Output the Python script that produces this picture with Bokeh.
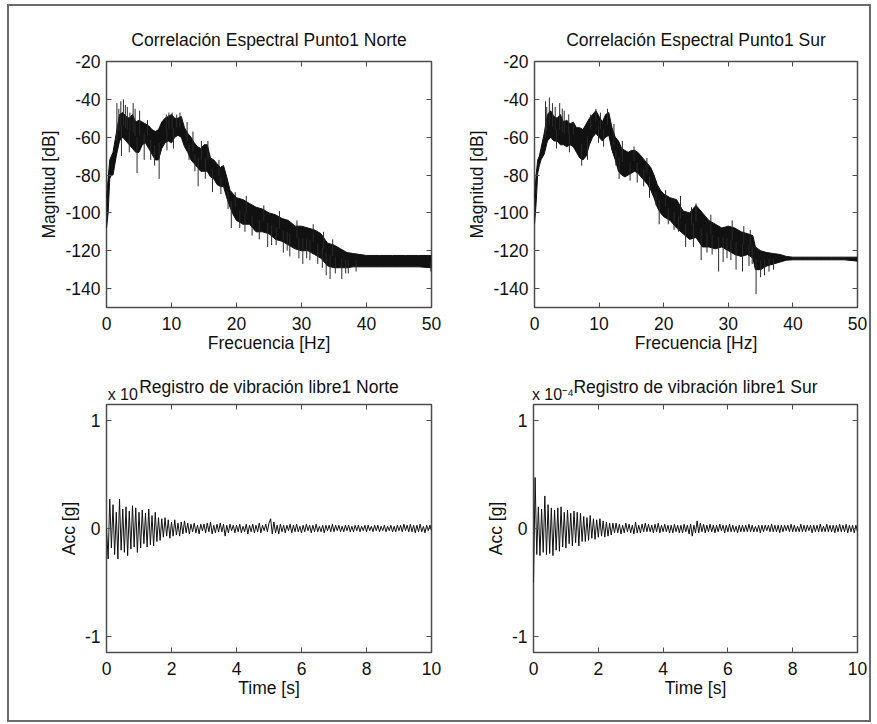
import numpy as np
from bokeh.plotting import figure
from bokeh.layouts import row, column
from bokeh.models import Range1d, FixedTicker, LinearAxis
from bokeh.embed import file_html
from bokeh.resources import INLINE

FONT = "Liberation Sans"
FS = "17.5px"

# ---------------- data ----------------
TITLES = ["Correlación Espectral Punto1 Norte", "Correlación Espectral Punto1 Sur",
          "Registro de vibración libre1 Norte", "Registro de vibración libre1 Sur"]
SCALE_TEXT = ["x 10", "x 10⁻⁴"]

FREQ_TICKS = [0, 10, 20, 30, 40, 50]
DB_TICKS = [-140, -120, -100, -80, -60, -40, -20]
TIME_TICKS = [0, 2, 4, 6, 8, 10]
ACC_TICKS = [-1, 0, 1]

# Norte spectrum: band envelope (upper / lower, dB)
NORTE_F = [0, 0.25, 0.5, 0.75, 1, 1.5, 2, 2.5, 3, 3.5, 4, 4.5, 5, 5.5, 6, 6.5, 7, 7.5, 8, 8.5,
           9, 9.5, 10, 10.5, 11, 11.5, 12, 12.5, 13, 13.5, 14, 14.5, 15, 15.5, 16, 16.5, 17, 17.5,
           18, 18.5, 19, 19.5, 20, 21, 22, 23, 24, 25, 26, 27, 28, 29, 30, 31, 32, 33, 34, 35,
           36, 37, 38, 39, 40, 42, 44, 46, 48, 50]
NORTE_UP = [-92, -82, -72, -70, -68, -58, -48, -47, -49, -50, -48, -52, -51, -52, -53, -54, -56, -57, -56, -52,
            -50, -49, -48, -50, -50, -49, -55, -58, -60, -63, -65, -66, -64, -64, -71, -72, -74, -76,
            -75, -81, -88, -90, -92, -93, -95, -97, -98, -100, -101, -103, -104, -107, -107, -108, -109, -111, -116, -117,
            -119, -121, -121.5, -122, -122.5, -122.5, -122.5, -122.5, -122.5, -122.5]
NORTE_LO = [-108, -100, -82, -80, -80, -70, -62, -60, -62, -64, -66, -68, -68, -64, -63, -66, -69, -72, -72, -66,
            -63, -62, -63, -60, -59, -60, -65, -68, -72, -74, -76, -78, -78, -78, -81, -82, -85, -86,
            -86, -92, -97, -101, -104, -106, -106, -110, -110, -111, -114, -115, -117, -119, -120, -120, -122, -124, -128, -129,
            -129, -129, -128.5, -128.5, -128.5, -128.5, -128.5, -128.5, -128.5, -129]
NORTE_SPIKE_F = [1.6, 1.9, 2.2, 2.6, 2.9, 3.2, 3.6, 4.1, 4.4, 5.1, 6.3, 9.2, 9.6, 10.1, 10.8, 11.3, 12.4,
                 13.3, 14.6, 15.6, 17.3, 19.8, 21.5, 24.2, 26.6, 29.3, 31.8, 33.4, 34.8,
                 2.3, 3.5, 4.7, 5.8, 6.8, 7.4, 8.1, 9.3, 10.3, 12.7, 13.6, 14.1, 15.2, 16.3, 17.6, 18.7,
                 19.2, 20.5, 21.3, 22.4, 23.5, 24.8, 25.4, 26.1, 27.2, 27.8, 28.2, 29.6, 30.2, 30.8,
                 31.3, 32.5, 33.2, 33.8, 34.4, 35.2, 36.2, 36.8, 37.2, 38.4, 49.9]
NORTE_SPIKE_DB = [-42, -45, -41, -40, -43, -44, -47, -42, -45, -46, -51, -48, -47, -47, -48, -47, -52,
                  -57, -62, -62, -72, -89, -91, -96, -99, -104, -106, -110, -114,
                  -70, -68, -79, -72, -72, -75, -82, -67, -66, -72, -78, -86, -82, -89, -90, -98,
                  -108, -108, -110, -112, -114, -118, -117, -117, -121, -120, -123, -124, -127, -124,
                  -125, -127, -129, -133, -135, -132, -135, -132, -132, -131, -131]

# Sur spectrum
SUR_F = [0, 0.25, 0.5, 0.75, 1, 1.5, 2, 2.5, 3, 3.5, 4, 4.5, 5, 5.5, 6, 6.5, 7, 7.5, 8, 8.5,
         9, 9.5, 10, 10.5, 11, 11.5, 12, 12.5, 13, 13.5, 14, 14.5, 15, 15.5, 16, 16.5, 17, 17.5,
         18, 18.5, 19, 19.5, 20, 21, 22, 23, 24, 25, 26, 27, 28, 29, 30, 31, 32, 33, 33.8, 34.2,
         35, 36, 37, 38, 39, 40, 42, 44, 46, 48, 50]
SUR_UP = [-92, -80, -72, -70, -66, -58, -48, -46, -49, -50, -48, -52, -51, -53, -52, -55, -55, -56, -53, -50,
          -48, -46, -49, -52, -48, -47, -55, -60, -62, -66, -67, -68, -67, -67, -68, -70, -72, -74,
          -76, -80, -85, -88, -90, -92, -93, -99, -100, -96, -100, -104, -106, -108, -107, -108, -110, -111, -112, -118,
          -120, -121, -121.5, -122, -123, -123.4, -123.4, -123.4, -123.4, -123.4, -123.4]
SUR_LO = [-106, -95, -79, -75, -72, -69, -62, -60, -62, -62, -64, -64, -65, -64, -65, -68, -71, -72, -70, -64,
          -60, -58, -60, -62, -60, -59, -67, -72, -78, -80, -81, -80, -79, -78, -79, -81, -83, -85,
          -88, -92, -97, -100, -102, -104, -108, -111, -114, -113, -118, -118, -119, -118, -120, -122, -123, -122, -124, -130,
          -130, -128, -127, -126, -125, -124.8, -124.8, -124.8, -124.8, -124.8, -125.5]
SUR_SPIKE_F = [1.7, 1.9, 2.3, 2.8, 3.2, 3.9, 4.3, 4.6, 5.3, 6.0, 8.7, 9.5, 10.2, 11.3, 12.3, 13.6, 15.4,
               17.4, 20.3, 22.6, 24.3, 25.0, 27.3, 30.6, 32.4, 33.4,
               3.4, 5.4, 7.3, 8.2, 9.9, 10.7, 12.6, 13.1, 14.8, 15.9, 16.9, 17.8, 18.8, 19.3, 20.7,
               21.6, 22.3, 23.4, 24.6, 25.8, 26.7, 27.5, 28.5, 29.2, 29.8, 30.4, 31.2, 32.2, 33.2,
               33.7, 34.3, 35.0, 35.6, 36.3, 37.0]
SUR_SPIKE_DB = [-41, -44, -39, -42, -44, -42, -45, -46, -48, -52, -48, -45, -47, -45, -53, -62, -65,
                -71, -88, -91, -97, -95, -101, -104, -107, -109,
                -66, -68, -75, -72, -63, -65, -75, -82, -83, -84, -86, -92, -96, -106, -106,
                -109, -110, -118, -118, -125, -121, -122, -131, -126, -124, -125, -130, -131, -128,
                -127, -143, -134, -133, -131, -130]

# Free-vibration records (x 1e-4 g), one value every 0.05 s from 0 to 10 s
NORTE_ACC = [0.00, -0.28, 0.27, -0.18, 0.22, -0.24, 0.15, -0.28, 0.27, -0.20, 0.18, -0.22, 0.20, -0.25, 0.16,
             -0.19, 0.21, -0.17, 0.19, -0.22, 0.15, -0.18, 0.17, -0.14, 0.14, -0.17, 0.18, -0.15, 0.12, -0.16,
             0.15, -0.12, 0.10, -0.11, 0.09, -0.08, 0.10, -0.07, 0.08, -0.09, 0.06, -0.07, 0.08, -0.06, 0.05,
             -0.07, 0.06, -0.05, 0.07, -0.04, 0.05,
             -0.05, 0.04, -0.03, 0.05, -0.04, 0.03, -0.05, 0.04, -0.02, 0.04,
             -0.04, 0.05, -0.03, 0.06, -0.05, 0.03, -0.04, 0.04, -0.03, 0.05,
             -0.03, 0.04, -0.07, 0.03, -0.04, 0.04, -0.02, 0.03, -0.04, 0.03,
             -0.03, 0.04, -0.04, 0.02, -0.03, 0.04, -0.05, 0.03, -0.03, 0.04,
             -0.04, 0.03, -0.03, 0.05, -0.04, 0.03, -0.02, 0.04, -0.03, 0.05,
             0.09, -0.05, 0.06, -0.04, 0.03, -0.05, 0.04, -0.03, 0.03, -0.04,
             0.03, -0.02, 0.04, -0.04, 0.03, -0.03, 0.04, -0.03, 0.02, -0.04,
             0.03, -0.03, 0.04, -0.02, 0.03, -0.04, 0.03, -0.03, 0.04, -0.03,
             0.02, -0.03, 0.03, -0.04, 0.03, -0.02, 0.03, -0.03, 0.04, -0.03,
             0.03, -0.02, 0.03, -0.03, 0.02, -0.03, 0.03, -0.02, 0.03, -0.03,
             0.02, -0.03, 0.03, -0.02, 0.03, -0.03, 0.02, -0.02, 0.03, -0.03,
             0.03, -0.02, 0.02, -0.03, 0.03, -0.02, 0.03, -0.03, 0.02, -0.02,
             0.03, -0.03, 0.02, -0.02, 0.03, -0.03, 0.02, -0.03, 0.03, -0.02,
             0.03, -0.03, 0.04, -0.02, 0.03, -0.03, 0.04, -0.03, 0.03, -0.04,
             0.03, -0.03, 0.04, -0.03, 0.02, -0.04, 0.03, -0.02, 0.03, -0.02]
SUR_ACC = [-0.50, 0.47, -0.24, 0.20, -0.25, 0.18, -0.22, 0.30, -0.24, 0.22, -0.23, 0.19, -0.25, 0.17, -0.20,
           0.19, -0.21, 0.20, -0.17, 0.15, -0.18, 0.17, -0.14, 0.14, -0.16, 0.16, -0.13, 0.15, -0.16, 0.14,
           -0.12, 0.11, -0.12, 0.10, -0.11, 0.12, -0.09, 0.09, -0.10, 0.08, -0.08, 0.09, -0.07, 0.07, -0.08,
           0.06, -0.07, 0.05, -0.06, 0.05, -0.04,
           0.05, -0.04, 0.04, -0.05, 0.03, -0.04, 0.05, -0.03, 0.04, -0.04,
           0.03, -0.05, 0.06, -0.04, 0.03, -0.04, 0.04, -0.03, 0.05, -0.03,
           0.04, -0.03, 0.03, -0.04, 0.04, -0.03, 0.05, -0.04, 0.03, -0.03,
           0.04, -0.03, 0.03, -0.04, 0.03, -0.04, 0.04, -0.03, 0.03, -0.04,
           0.03, -0.04, 0.04, -0.03, 0.03, -0.05, 0.04, -0.07, 0.03, -0.04,
           0.07, -0.04, 0.05, -0.03, 0.04, -0.04, 0.03, -0.03, 0.04, -0.03,
           0.03, -0.04, 0.03, -0.03, 0.04, -0.02, 0.03, -0.04, 0.03, -0.03,
           0.04, -0.03, 0.03, -0.03, 0.02, -0.04, 0.03, -0.03, 0.03, -0.03,
           0.03, -0.03, 0.04, -0.03, 0.03, -0.03, 0.02, -0.03, 0.03, -0.04,
           0.03, -0.03, 0.03, -0.02, 0.03, -0.03, 0.04, -0.03, 0.03, -0.03,
           0.03, -0.04, 0.03, -0.03, 0.03, -0.02, 0.03, -0.03, 0.04, -0.03,
           0.03, -0.03, 0.02, -0.03, 0.04, -0.03, 0.03, -0.03, 0.03, -0.02,
           0.03, -0.04, 0.03, -0.03, 0.03, -0.03, 0.04, -0.03, 0.02, -0.03,
           0.04, -0.03, 0.03, -0.03, 0.03, -0.04, 0.03, -0.03, 0.04, -0.03,
           0.03, -0.03, 0.04, -0.04, 0.03, -0.03, 0.03, -0.04, 0.03, -0.03]
ACC_DT = 0.05

FRAME_COLOR = "#4d4d4d"
TEXT_COLOR = "#111111"


def style_axis(ax):
    ax.axis_line_color = None
    ax.major_tick_in = 5
    ax.major_tick_out = 0
    ax.major_tick_line_color = FRAME_COLOR
    ax.minor_tick_line_color = None
    ax.major_label_text_font = FONT
    ax.major_label_text_font_size = FS
    ax.major_label_text_color = TEXT_COLOR
    ax.axis_label_text_font = FONT
    ax.axis_label_text_font_size = FS
    ax.axis_label_text_font_style = "normal"
    ax.axis_label_text_color = TEXT_COLOR


def make_fig(width, height, left, right, top, bottom, xr, yr, xticks, yticks, xlabel, ylabel):
    p = figure(width=width, height=height, x_range=Range1d(*xr), y_range=Range1d(*yr),
               output_backend="svg", toolbar_location=None,
               min_border_left=left, min_border_right=right,
               min_border_top=top, min_border_bottom=bottom)
    p.xgrid.visible = False
    p.ygrid.visible = False
    p.background_fill_color = "white"
    p.border_fill_color = "white"
    p.outline_line_color = FRAME_COLOR
    p.outline_line_width = 1.5
    p.xaxis.ticker = FixedTicker(ticks=xticks)
    p.yaxis.ticker = FixedTicker(ticks=yticks)
    style_axis(p.xaxis[0])
    style_axis(p.yaxis[0])
    p.xaxis.major_label_overrides = {t: str(t) for t in xticks}
    p.yaxis.major_label_overrides = {t: str(t) for t in yticks}
    p.xaxis.major_label_standoff = 9
    p.yaxis.major_label_standoff = 6
    p.xaxis.axis_label = xlabel
    p.yaxis.axis_label = ylabel
    p.xaxis.axis_label_standoff = 0
    p.yaxis.axis_label_standoff = 3
    # box ticks on the top and right sides (marks only, no labels)
    for loc, tk in (("above", xticks), ("right", yticks)):
        ax = LinearAxis(ticker=FixedTicker(ticks=tk), axis_line_color=None, major_tick_in=5,
                        major_tick_out=0, major_tick_line_color=FRAME_COLOR,
                        minor_tick_line_color=None, major_label_text_font_size="1px",
                        major_label_overrides={t: "" for t in tk},
                        major_label_standoff=0)
        p.add_layout(ax, loc)
    return p


def spectrum(p, f, up, lo, sf, sdb, title):
    f = np.array(f, float)
    up = np.array(up, float)
    lo = np.array(lo, float)
    p.varea(x=f, y1=lo, y2=up, fill_color="#111111")
    p.line(x=f, y=up, line_color="#111111", line_width=1)
    p.line(x=f, y=lo, line_color="#111111", line_width=1)
    base = np.interp(sf, f, (up + lo) / 2)
    p.segment(x0=sf, y0=base, x1=sf, y1=sdb, line_color="#2a2a2a", line_width=1)
    tax = LinearAxis(ticker=FixedTicker(ticks=[]), axis_line_color=None,
                     major_tick_line_color=None, minor_tick_line_color=None,
                     axis_label=title, axis_label_standoff=12)
    style_axis(tax)
    tax.major_tick_in = 0
    tax.major_tick_line_color = None
    p.add_layout(tax, "above")


def record(p, acc, title, scale_text, scale_pos):
    t = np.arange(len(acc)) * ACC_DT
    p.line(x=t, y=acc, line_color="#111111", line_width=1)
    p.extra_x_ranges = {"lbl": Range1d(0, 100)}
    lax = LinearAxis(x_range_name="lbl", ticker=FixedTicker(ticks=[scale_pos]),
                     major_label_overrides={scale_pos: scale_text},
                     axis_label=title, axis_label_standoff=-14)
    style_axis(lax)
    lax.major_tick_in = 0
    lax.major_tick_line_color = None
    lax.major_label_text_font_size = "16px"
    lax.major_label_standoff = 2
    p.add_layout(lax, "above")


W1, W2 = 455, 405
H1, H2 = 355, 359

p1 = make_fig(W1, H1, 97, 33, 55, 54, (0, 50), (-150, -20), FREQ_TICKS, DB_TICKS,
              "Frecuencia [Hz]", "Magnitud [dB]")
p2 = make_fig(W2, H1, 69, 12, 55, 54, (0, 50), (-150, -20), FREQ_TICKS, DB_TICKS,
              "Frecuencia [Hz]", "Magnitud [dB]")
p3 = make_fig(W1, H2, 97, 33, 43, 68, (0, 10), (-1.143, 1.143), TIME_TICKS, ACC_TICKS,
              "Time [s]", "Acc [g]")
p4 = make_fig(W2, H2, 69, 12, 43, 68, (0, 10), (-1.143, 1.143), TIME_TICKS, ACC_TICKS,
              "Time [s]", "Acc [g]")

spectrum(p1, NORTE_F, NORTE_UP, NORTE_LO, NORTE_SPIKE_F, NORTE_SPIKE_DB, TITLES[0])
spectrum(p2, SUR_F, SUR_UP, SUR_LO, SUR_SPIKE_F, SUR_SPIKE_DB, TITLES[1])
record(p3, NORTE_ACC, TITLES[2], SCALE_TEXT[0], 5)
record(p4, SUR_ACC, TITLES[3], SCALE_TEXT[1], 6)

layout = column(row(p1, p2), row(p3, p4), margin=(6, 0, 0, 9),
                styles={"outline": "2px solid #6a6a6a", "outline-offset": "0px"})

open("out.html", "w").write(file_html(layout, INLINE))
